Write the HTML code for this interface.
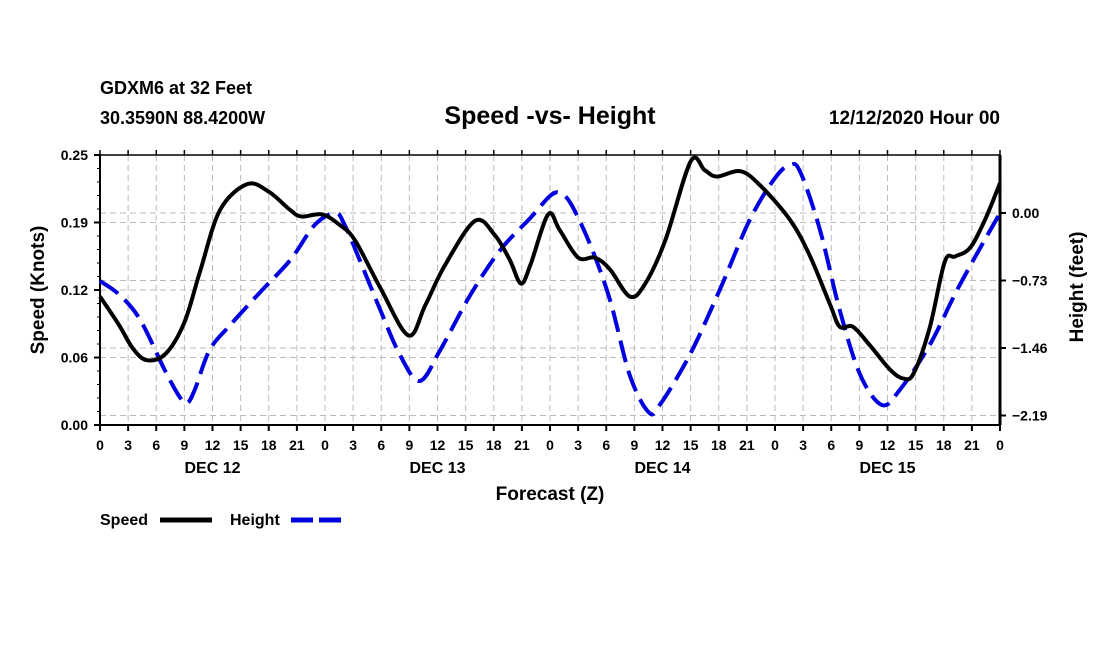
<!DOCTYPE html>
<html><head><meta charset="utf-8"><style>
body{margin:0;background:#fff;}
svg text{font-family:"Liberation Sans",sans-serif;font-weight:bold;fill:#000;}
</style></head><body>
<svg id="chart" width="1100" height="650" viewBox="0 0 1100 650" xmlns="http://www.w3.org/2000/svg">
<rect width="1100" height="650" fill="#fff"/>
<text x="100" y="94" font-size="18">GDXM6 at 32 Feet</text>
<text x="100" y="124" font-size="18">30.3590N 88.4200W</text>
<text x="550" y="124" font-size="25" text-anchor="middle">Speed -vs- Height</text>
<text x="1000" y="124" font-size="19" text-anchor="end">12/12/2020 Hour 00</text>
<g id="grid"></g>
<g id="axes"></g>
<g id="series"></g>
<text transform="translate(44,290) rotate(-90)" font-size="19" text-anchor="middle">Speed (Knots)</text>
<text transform="translate(1083,287) rotate(-90)" font-size="19" text-anchor="middle">Height (feet)</text>
<text x="550" y="500" font-size="19" text-anchor="middle">Forecast (Z)</text>
<g>
<text x="100" y="525" font-size="16">Speed</text>
<line x1="160" y1="520" x2="212" y2="520" stroke="#000" stroke-width="5"/>
<text x="230" y="525" font-size="16">Height</text>
<line x1="291" y1="520" x2="343" y2="520" stroke="#0000e0" stroke-width="5" stroke-dasharray="22 6"/>
</g>
</svg>
<script>
const speedHours=[0,2,3.5,5,7,9,10.7,12.8,15.7,18,20.3,21.5,23.7,25.6,27.2,29.9,32.9,34.7,36.8,40,42.1,43.7,44.9,45.9,47.8,49,51,52.8,54.4,56.5,58.1,60.3,63,64.5,65.8,68.3,70.4,73.6,75.7,77.9,78.9,80.3,82.1,84.3,85.7,86.8,88.5,90.1,91.2,92.8,94.4,96];
const speedValues=[0.119,0.093,0.071,0.060,0.066,0.095,0.143,0.199,0.223,0.216,0.199,0.193,0.195,0.185,0.171,0.127,0.083,0.111,0.148,0.189,0.176,0.153,0.131,0.148,0.195,0.181,0.155,0.155,0.144,0.119,0.130,0.171,0.244,0.236,0.230,0.235,0.222,0.190,0.157,0.111,0.091,0.091,0.074,0.051,0.043,0.048,0.090,0.151,0.156,0.164,0.190,0.224];
const heightHours=[0,2.1,4.3,6.9,8.5,9.3,10.1,11.7,13.9,17.1,20.3,22.9,25.1,26.1,27.7,29.9,32,34.1,36.3,39.5,42.7,45.9,48,49.1,50.3,52.3,54.4,56.5,58.5,59.7,62.9,66.1,69.3,72,73.6,74.7,76.8,78.9,81.1,83.4,85.3,88.5,91.7,96];
const heightValues=[-0.735,-0.887,-1.157,-1.698,-1.99,-2.055,-1.914,-1.481,-1.211,-0.854,-0.508,-0.130,0,-0.130,-0.508,-1.049,-1.536,-1.817,-1.481,-0.887,-0.400,-0.054,0.184,0.216,0.087,-0.346,-0.941,-1.752,-2.152,-2.076,-1.536,-0.833,-0.076,0.378,0.519,0.443,-0.184,-1.049,-1.752,-2.076,-1.914,-1.427,-0.779,0];
const leftTicks=[0,0.0625,0.125,0.1875,0.25];
const leftTickLabels=["0.00","0.06","0.12","0.19","0.25"];
const rightTicks=[0,-0.73,-1.46,-2.19];
const rightTickLabels=["0.00","\u22120.73","\u22121.46","\u22122.19"];
const xTickLabels=["0","3","6","9","12","15","18","21","0","3","6","9","12","15","18","21","0","3","6","9","12","15","18","21","0","3","6","9","12","15","18","21","0"];
const dayLabels=["DEC 12","DEC 13","DEC 14","DEC 15"];
const dayHours=[12,36,60,84];

const X0=100,X1=1000,YT=155,YB=425;
const xs=h=>X0+h*(X1-X0)/96;
const ys=v=>YB-v*(YB-YT)/0.25;
const yh=h=>213-h*(67.5/0.73);
const NS="http://www.w3.org/2000/svg";
function mk(parent,tag,attrs){const e=document.createElementNS(NS,tag);for(const k in attrs)e.setAttribute(k,attrs[k]);parent.appendChild(e);return e;}
const grid=document.getElementById('grid'),axes=document.getElementById('axes'),series=document.getElementById('series');
for(let i=1;i<32;i++){
  const l=mk(grid,'line',{x1:xs(i*3),x2:xs(i*3),y1:YT,y2:YB,stroke:'#bbb','stroke-width':1,'stroke-dasharray':'6 4'});
  
  
}
leftTicks.forEach((v,i)=>{
  if(i>0&&i<leftTicks.length-1){const l=mk(grid,'line',{x1:X0,x2:X1,y1:ys(v),y2:ys(v),stroke:'#bbb','stroke-width':1,'stroke-dasharray':'6 4'});
  
  }
  mk(axes,'line',{x1:X0-6,x2:X0,y1:ys(v),y2:ys(v),stroke:'#000','stroke-width':2});
  const t=mk(axes,'text',{x:X0-12,y:ys(v)+5,'font-size':14,'text-anchor':'end'});t.textContent=leftTickLabels[i];
  
  
});
for(let i=0;i<=20;i++){const y=YT+i*(YB-YT)/20;mk(axes,'line',{x1:X0-3,x2:X0,y1:y,y2:y,stroke:'#000','stroke-width':1});}
rightTicks.forEach((v,i)=>{
  const l=mk(grid,'line',{x1:X0,x2:X1,y1:yh(v),y2:yh(v),stroke:'#bbb','stroke-width':1,'stroke-dasharray':'6 4'});
  
  
  mk(axes,'line',{x1:X1,x2:X1+6,y1:yh(v),y2:yh(v),stroke:'#000','stroke-width':2});
  const t=mk(axes,'text',{x:X1+12,y:yh(v)+5,'font-size':14});t.textContent=rightTickLabels[i];
  
  
});
xTickLabels.forEach((s,i)=>{
  const x=xs(i*3);
  mk(axes,'line',{x1:x,x2:x,y1:YB,y2:YB+6,stroke:'#000','stroke-width':2});
  mk(axes,'line',{x1:x,x2:x,y1:YT,y2:YT-5,stroke:'#000','stroke-width':1.5});
  const t=mk(axes,'text',{x:x,y:YB+25,'font-size':14,'text-anchor':'middle'});t.textContent=s;
  
  
});
dayLabels.forEach((s,i)=>{
  const t=mk(axes,'text',{x:xs(dayHours[i]),y:YB+48,'font-size':16,'text-anchor':'middle'});t.textContent=s;
  
  
});
mk(axes,'line',{x1:X0,x2:X1,y1:YT,y2:YT,stroke:'#000','stroke-width':1.5});
mk(axes,'line',{x1:X0,x2:X1,y1:YB,y2:YB,stroke:'#000','stroke-width':2});
mk(axes,'line',{x1:X0,x2:X0,y1:YT,y2:YB,stroke:'#000','stroke-width':2});
mk(axes,'line',{x1:X1,x2:X1,y1:YT,y2:YB,stroke:'#000','stroke-width':3});
function smooth(pts){
  let d=`M${pts[0][0]},${pts[0][1]}`;
  for(let i=0;i<pts.length-1;i++){
    const p0=pts[Math.max(0,i-1)],p1=pts[i],p2=pts[i+1],p3=pts[Math.min(pts.length-1,i+2)];
    const c1=[p1[0]+(p2[0]-p0[0])/6,p1[1]+(p2[1]-p0[1])/6],c2=[p2[0]-(p3[0]-p1[0])/6,p2[1]-(p3[1]-p1[1])/6];
    d+=` C${c1[0]},${c1[1]} ${c2[0]},${c2[1]} ${p2[0]},${p2[1]}`;
  }
  return d;
}
const hp=mk(series,'path',{d:smooth(heightHours.map((h,i)=>[xs(h),yh(heightValues[i])])),fill:'none',stroke:'#0000e0','stroke-width':4,'stroke-dasharray':'22 9'});


const sp=mk(series,'path',{d:smooth(speedHours.map((h,i)=>[xs(h),ys(speedValues[i])])),fill:'none',stroke:'#000','stroke-width':4});


</script>
</body></html>
